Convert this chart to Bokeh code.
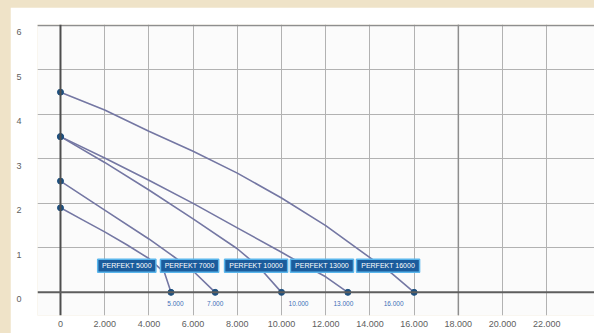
from bokeh.plotting import figure
from bokeh.models import FixedTicker, Span, Range1d, ColumnDataSource
from bokeh.core.properties import value
from bokeh.embed import file_html
from bokeh.resources import INLINE

# ---- data ----
models = ["PERFEKT 5000", "PERFEKT 7000", "PERFEKT 10000", "PERFEKT 13000", "PERFEKT 16000"]
flow_5000 = [0, 1000, 2000, 3000, 4000, 4700, 5000]
head_5000 = [1.9, 1.63, 1.36, 1.07, 0.76, 0.45, 0]
flow_7000 = [0, 2000, 4000, 5000, 6000, 7000]
head_7000 = [2.5, 1.85, 1.2, 0.85, 0.48, 0]
flow_10000 = [0, 2000, 4000, 6000, 8000, 9000, 10000]
head_10000 = [3.5, 2.92, 2.3, 1.65, 0.98, 0.56, 0]
flow_13000 = [0, 2000, 4000, 6000, 8000, 10000, 11000, 12000, 13000]
head_13000 = [3.5, 3.02, 2.52, 2.0, 1.45, 0.9, 0.62, 0.35, 0]
flow_16000 = [0, 2000, 4000, 6000, 8000, 10000, 12000, 14000, 15000, 16000]
head_16000 = [4.5, 4.1, 3.62, 3.17, 2.68, 2.12, 1.5, 0.78, 0.42, 0]
max_flow_labels = ["5.000", "7.000", "10.000", "13.000", "16.000"]
x_ticks = [0, 2000, 4000, 6000, 8000, 10000, 12000, 14000, 16000, 18000, 20000, 22000]
x_tick_labels = ["0", "2.000", "4.000", "6.000", "8.000", "10.000", "12.000",
                 "14.000", "16.000", "18.000", "20.000", "22.000"]
y_ticks = [0, 1, 2, 3, 4, 5, 6]
y_tick_labels = ["0", "1", "2", "3", "4", "5", "6"]

# ---- layout (positions of annotation boxes, in data units) ----
box_x = [3000, 5840, 8850, 11830, 14820]
box_y = 0.6
end_label_x = [5200, 7000, 10770, 12800, 15070]
end_label_y = -0.25
y_label_shift = 0.15

series = [(flow_5000, head_5000), (flow_7000, head_7000), (flow_10000, head_10000),
          (flow_13000, head_13000), (flow_16000, head_16000)]

FONT = "Liberation Sans"
LINE = "#7477a3"
DOT = "#1d4f7e"

p = figure(width=584, height=326, output_backend="svg", toolbar_location=None,
           x_range=Range1d(-1040, 24160), y_range=Range1d(-0.52, 6.02),
           min_border_left=27, min_border_right=0, min_border_top=17, min_border_bottom=18)
p.background_fill_color = "#fbfbfb"
p.border_fill_color = "white"
p.outline_line_color = None

# grid
p.xgrid.ticker = FixedTicker(ticks=x_ticks[1:])
p.ygrid.ticker = FixedTicker(ticks=y_ticks[1:])
p.xgrid.grid_line_color = "#b2b2b2"
p.ygrid.grid_line_color = "#b2b2b2"
p.xgrid.grid_line_width = 1
p.ygrid.grid_line_width = 1

p.add_layout(Span(location=18000, dimension="height", line_color="#8e8e8e", line_width=1.5))
p.add_layout(Span(location=6, dimension="width", line_color="#8e8e8e", line_width=1.5))
p.add_layout(Span(location=0, dimension="height", line_color="#4e4e4e", line_width=2))
p.add_layout(Span(location=0, dimension="width", line_color="#5e5e5e", line_width=2))

# axes
p.xaxis.ticker = FixedTicker(ticks=x_ticks)
p.xaxis.major_label_overrides = dict(zip(x_ticks, x_tick_labels))
y_pos = [t - y_label_shift for t in y_ticks]
p.yaxis.ticker = FixedTicker(ticks=y_pos)
p.yaxis.major_label_overrides = dict(zip(y_pos, y_tick_labels))
for ax in (p.xaxis, p.yaxis):
    ax.axis_line_color = None
    ax.major_tick_line_color = None
    ax.minor_tick_line_color = None
    ax.major_tick_out = 0
    ax.major_tick_in = 0
    ax.major_label_text_font = FONT
    ax.major_label_text_font_size = "9px"
    ax.major_label_text_color = "#606060"
p.xaxis.major_label_standoff = 5
p.yaxis.major_label_standoff = 16

# curves
for f, h in series:
    p.line(f, h, line_color=LINE, line_width=1.6)

starts = [h[0] for f, h in series]
ends = [f[-1] for f, h in series]
p.scatter([0] * len(starts), starts, size=6, fill_color=DOT, line_color=DOT)
p.scatter(ends, [0] * len(ends), size=6, fill_color=DOT, line_color=DOT)

# model label boxes
src = ColumnDataSource(dict(x=box_x, y=[box_y] * len(models), text=models,
                            w=[4.85 * len(m) for m in models]))
p.rect("x", "y", width="w", height=13, width_units="screen", height_units="screen",
       source=src, fill_color="#1b5c9c", line_color="#5ab6ec", line_width=1.5)
p.text("x", "y", text="text", source=src, text_color="white", text_font=value(FONT),
       text_font_size="7px", text_align="center", text_baseline="middle")

# end flow labels
p.text(end_label_x, [end_label_y] * len(end_label_x), text=max_flow_labels,
       text_color="#3d6fb8", text_font=value(FONT), text_font_size="6.5px",
       text_align="center", text_baseline="middle")

html = file_html(p, INLINE)
html = html.replace(
    "<head>",
    "<head><style>html,body{background:#efe3c8;overflow:hidden;}"
    "body{padding:7px 0 0 10px !important;}</style>", 1)
open("out.html", "w").write(html)
